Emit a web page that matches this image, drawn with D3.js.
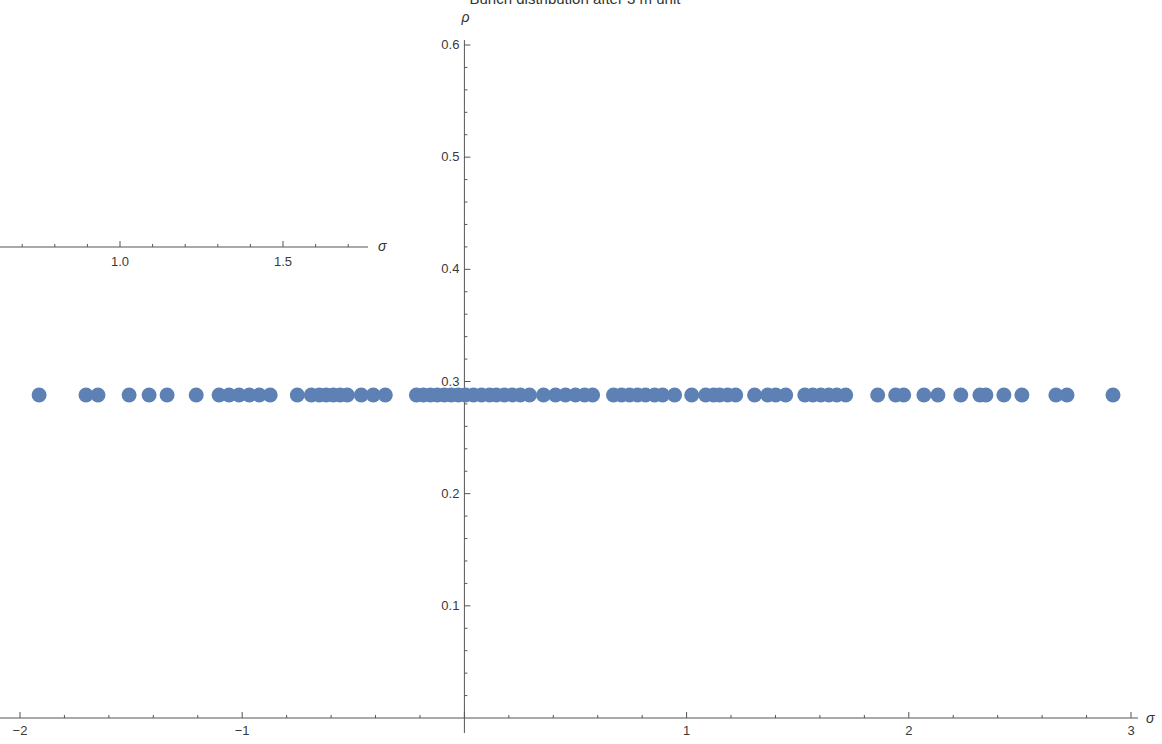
<!DOCTYPE html>
<html>
<head>
<meta charset="utf-8">
<script src="https://d3js.org/d3.v7.min.js"></script>
<style>
  body { margin: 0; background: #fff; }
  svg { display: block; }
  .tick-label { font: 13px "Liberation Sans", Arial, sans-serif; fill: #3a3a3a; }
  .axis-label { font: italic 14px "Liberation Sans", Arial, sans-serif; fill: #333; }
</style>
</head>
<body>
<svg width="1162" height="744"></svg>
<script>
// bunch positions (sigma), rho is the same for every particle
var sigma = [-1.914, -1.703, -1.649, -1.509, -1.419, -1.338, -1.207, -1.104, -1.059, -1.014,
  -0.968, -0.923, -0.874, -0.752, -0.689, -0.653, -0.622, -0.590, -0.559, -0.527,
  -0.464, -0.410, -0.356, -0.216, -0.185, -0.153, -0.122, -0.090, -0.059, -0.027,
  0.005, 0.041, 0.077, 0.113, 0.144, 0.180, 0.216, 0.252, 0.293, 0.356,
  0.410, 0.455, 0.500, 0.541, 0.577, 0.671, 0.707, 0.743, 0.779, 0.815,
  0.856, 0.892, 0.946, 1.023, 1.086, 1.122, 1.149, 1.185, 1.221, 1.306,
  1.365, 1.401, 1.446, 1.532, 1.568, 1.604, 1.640, 1.676, 1.716, 1.860,
  1.941, 1.977, 2.068, 2.131, 2.234, 2.320, 2.347, 2.428, 2.509, 2.662,
  2.712, 2.919];
var rho = sigma.map(function() { return 0.288; });

var xTickLabels = [-2, -1, 1, 2, 3];
var yTickLabels = [0.1, 0.2, 0.3, 0.4, 0.5, 0.6];
var insetTickLabels = [1.0, 1.5];
var title = "Bunch distribution after 3 m unit";

var svg = d3.select("svg");
var axisColor = "#555";

var x = d3.scaleLinear().domain([-2, 3]).range([20, 1131]);
var y = d3.scaleLinear().domain([0, 0.6]).range([718, 45]);

// stray axis left over at the left side (another plot's sigma axis)
var xi = d3.scaleLinear().domain([1.0, 1.5]).range([120, 283]);
var gi = svg.append("g");
gi.append("line")
  .attr("x1", 0).attr("x2", 368)
  .attr("y1", 247).attr("y2", 247)
  .attr("stroke", axisColor);
d3.range(7, 18).map(function(d) { return d / 10; }).forEach(function(v) {
  var major = (Math.round(v * 10) % 5 == 0);
  gi.append("line")
    .attr("x1", xi(v)).attr("x2", xi(v))
    .attr("y1", 247).attr("y2", major ? 241 : 244)
    .attr("stroke", axisColor);
});
gi.selectAll("text.lbl")
  .data(insetTickLabels)
  .enter()
  .append("text")
    .attr("class", "tick-label")
    .attr("x", function(d) { return xi(d); })
    .attr("y", 266)
    .attr("text-anchor", "middle")
    .text(function(d) { return d.toFixed(1); });
gi.append("text")
  .attr("class", "axis-label")
  .attr("x", 378).attr("y", 251)
  .text("σ");

// main x axis
var gx = svg.append("g");
gx.append("line")
  .attr("x1", 0).attr("x2", 1138)
  .attr("y1", y(0)).attr("y2", y(0))
  .attr("stroke", axisColor);
d3.range(-10, 16).map(function(d) { return d / 5; }).forEach(function(v) {
  var major = Math.abs(v - Math.round(v)) < 1e-9;
  gx.append("line")
    .attr("x1", x(v)).attr("x2", x(v))
    .attr("y1", y(0)).attr("y2", y(0) - (major ? 6 : 3))
    .attr("stroke", axisColor);
});
gx.selectAll("text.lbl")
  .data(xTickLabels)
  .enter()
  .append("text")
    .attr("class", "tick-label")
    .attr("x", function(d) { return x(d); })
    .attr("y", y(0) + 17)
    .attr("text-anchor", "middle")
    .text(function(d) { return d < 0 ? "\u2212" + Math.abs(d) : d; });
gx.append("text")
  .attr("class", "axis-label")
  .attr("x", 1146).attr("y", y(0) + 5)
  .text("σ");

// main y axis
var gy = svg.append("g");
gy.append("line")
  .attr("x1", x(0)).attr("x2", x(0))
  .attr("y1", 40).attr("y2", 733)
  .attr("stroke", axisColor);
d3.range(1, 31).map(function(d) { return d / 50; }).forEach(function(v) {
  var major = Math.abs(v * 10 - Math.round(v * 10)) < 1e-9;
  gy.append("line")
    .attr("x1", x(0)).attr("x2", x(0) + (major ? 6 : 3))
    .attr("y1", y(v)).attr("y2", y(v))
    .attr("stroke", axisColor);
});
gy.selectAll("text.lbl")
  .data(yTickLabels)
  .enter()
  .append("text")
    .attr("class", "tick-label")
    .attr("x", x(0) - 5)
    .attr("y", function(d) { return y(d) + 4; })
    .attr("text-anchor", "end")
    .text(function(d) { return d.toFixed(1); });
gy.append("text")
  .attr("class", "axis-label")
  .attr("x", x(0) - 3).attr("y", 22)
  .text("ρ");

// title, cut by the top edge as in the original
svg.append("text")
  .attr("x", 575).attr("y", 4)
  .attr("text-anchor", "middle")
  .style("font", "15px 'Liberation Sans', Arial, sans-serif")
  .style("fill", "#333")
  .text(title);

// points
svg.append("g")
  .selectAll("circle")
  .data(sigma)
  .enter()
  .append("circle")
    .attr("cx", function(d) { return x(d); })
    .attr("cy", function(d, i) { return y(rho[i]); })
    .attr("r", 7.5)
    .style("fill", "#5e81b5");
</script>
</body>
</html>
